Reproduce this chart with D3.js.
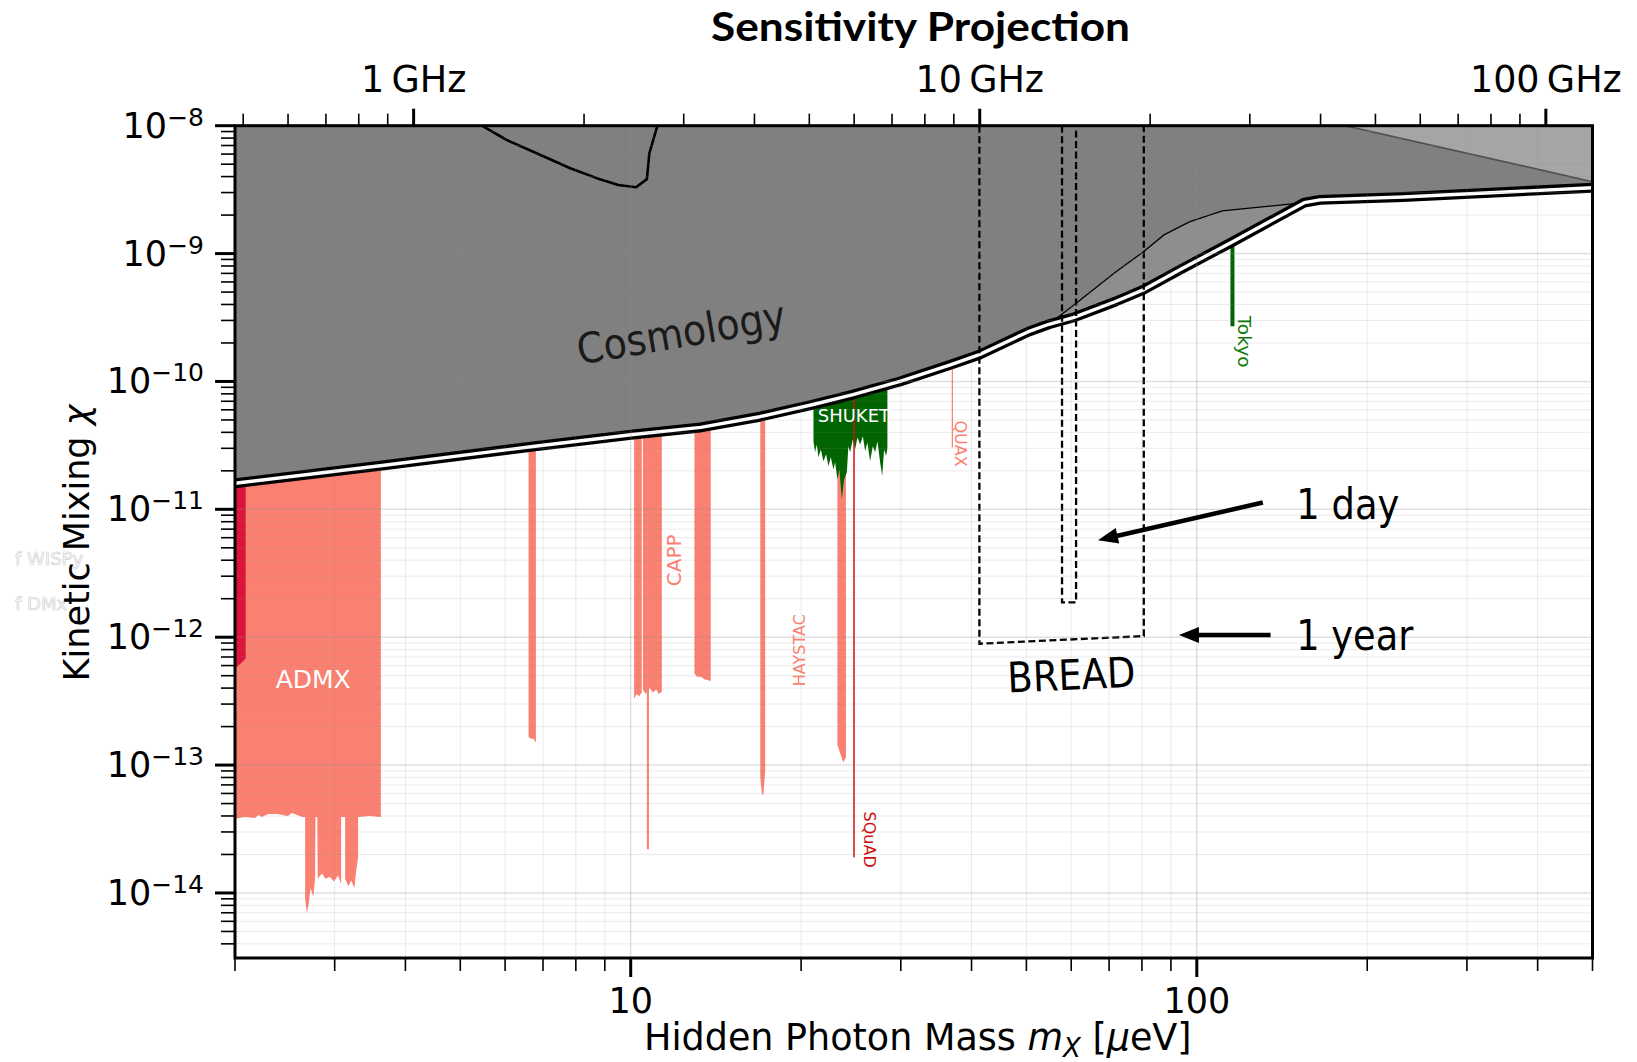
<!DOCTYPE html>
<html>
<head>
<meta charset="utf-8">
<script src="https://d3js.org/d3.v7.min.js"></script>
<style>
  body { margin: 0; background: #fff; }
  svg { display: block; }
  text { font-family: "DejaVu Sans", sans-serif; }
</style>
</head>
<body>
<div id="chart-area"></div>
<script>
// ---------- data: hidden photon mass in µeV, kinetic mixing chi ----------
const uevPerGHz = 4.1357;

// cosmology bound (lower edge of grey region)
const cosmoMass = [2, 3.64, 6.72, 10.1, 13.3, 16.9, 21.0, 24.7, 29.9, 36.7, 41.3, 50.4, 54.8, 60.5, 71.7, 80.4, 93.5, 114.6, 154.8, 165, 231.6, 500];
const cosmoChi = [1.6e-11, 2.2e-11, 3.1e-11, 3.85e-11, 4.37e-11, 5.3e-11, 6.6e-11, 7.9e-11, 1.0e-10, 1.35e-10, 1.62e-10, 2.45e-10, 2.8e-10, 3.16e-10, 4.2e-10, 5.2e-10, 7.5e-10, 1.21e-9, 2.5e-9, 2.63e-9, 2.77e-9, 3.27e-9];

// thin bound inside the grey region
const stellarMass = [54.8, 61.7, 71.7, 80.4, 87.5, 97, 110.9, 154.8];
const stellarChi = [2.8e-10, 4.2e-10, 7.1e-10, 1.03e-9, 1.4e-9, 1.77e-9, 2.16e-9, 2.5e-9];

// curve near 1 GHz at the top
const topCurveMass = [5.46, 6.04, 6.82, 7.82, 8.71, 9.51, 10.22, 10.68, 10.79, 11.15];
const topCurveChi = [1e-8, 7.73e-9, 6.09e-9, 4.65e-9, 3.89e-9, 3.44e-9, 3.3e-9, 3.82e-9, 6.1e-9, 1e-8];

// light grey wedge, upper right
const wedgeMass = [182.8, 500];
const wedgeChi = [1e-8, 3.65e-9];

// haloscopes (lower edge of each excluded band)
const admxMass = [2.00, 2.08, 2.17, 2.20, 2.23, 2.29, 2.38, 2.48, 2.52, 2.575, 2.63, 2.66, 2.66, 2.68, 2.70, 2.72, 2.75, 2.77, 2.775, 2.795, 2.80, 2.85, 2.89, 2.94, 2.99, 3.04, 3.08, 3.08, 3.13, 3.13, 3.17, 3.21, 3.25, 3.27, 3.30, 3.30, 3.46, 3.62];
const admxChi = [3.8e-14, 3.93e-14, 3.86e-14, 4.07e-14, 3.93e-14, 4.15e-14, 4.15e-14, 4.0e-14, 4.22e-14, 4.07e-14, 3.93e-14, 3.93e-14, 9.0e-15, 6.9e-15, 8.3e-15, 1.09e-14, 9.4e-15, 1.29e-14, 3.93e-14, 3.93e-14, 1.29e-14, 1.42e-14, 1.29e-14, 1.34e-14, 1.23e-14, 1.37e-14, 1.18e-14, 3.93e-14, 3.93e-14, 1.29e-14, 1.13e-14, 1.25e-14, 1.09e-14, 1.42e-14, 1.9e-14, 3.93e-14, 4.0e-14, 3.93e-14];

const redStripMass = [2.0, 2.045, 2.089];
const redStripChi = [5.7e-13, 6.2e-13, 6.8e-13];

const band1Mass = [6.60, 6.68, 6.72, 6.80];
const band1Chi = [1.66e-13, 1.60e-13, 1.62e-13, 1.50e-13];

const cappAMass = [10.14, 10.25, 10.35, 10.46];
const cappAChi = [3.3e-13, 3.6e-13, 3.45e-13, 3.7e-13];
const cappBMass = [10.51, 10.62, 10.8, 10.95, 11.1, 11.2, 11.35];
const cappBChi = [3.9e-13, 3.6e-13, 4.0e-13, 3.7e-13, 3.9e-13, 3.6e-13, 3.75e-13];
const cappThinMass = [10.68, 10.77];
const cappThinChi = [2.2e-14, 2.2e-14];

const band3Mass = [12.96, 13.1, 13.3, 13.5, 13.85];
const band3Chi = [5.2e-13, 4.9e-13, 4.9e-13, 4.7e-13, 4.55e-13];

const haystacMass = [16.94, 17.05, 17.15, 17.28];
const haystacChi = [8.0e-14, 6.0e-14, 5.8e-14, 9.0e-14];

const band5Mass = [23.18, 23.5, 23.75, 24.0];
const band5Chi = [1.45e-13, 1.2e-13, 1.05e-13, 1.15e-13];

const shuketMass = [21.03, 21.17, 21.32, 21.46, 21.67, 21.90, 22.14, 22.35, 22.57, 22.81, 22.97, 23.18, 23.37, 23.60, 23.82, 24.09, 24.24, 24.41, 24.68, 24.91, 25.15, 25.43, 25.71, 25.95, 26.19, 26.48, 26.77, 27.03, 27.28, 27.58, 27.81, 28.03, 28.26, 28.41];
const shuketChi = [3.41e-11, 2.79e-11, 3.22e-11, 2.55e-11, 2.94e-11, 2.38e-11, 2.69e-11, 2.18e-11, 2.55e-11, 2.05e-11, 2.33e-11, 1.71e-11, 2.05e-11, 1.20e-11, 1.71e-11, 1.95e-11, 3.12e-11, 2.79e-11, 3.52e-11, 2.94e-11, 3.65e-11, 3.22e-11, 3.73e-11, 2.85e-11, 3.33e-11, 2.38e-11, 3.12e-11, 2.79e-11, 3.41e-11, 2.33e-11, 1.82e-11, 2.94e-11, 2.61e-11, 3.0e-11];

const squadMass = 24.8, squadChi = 1.9e-14;
const quaxMass = 37.0, quaxChi = 3.04e-11;
const tokyoMass = 115.6, tokyoChi = 2.7e-10;

// BREAD projections
const breadYearMass = [41.3, 41.3, 80.6, 80.6];
const breadYearChi = [1e-8, 8.9e-13, 1.02e-12, 1e-8];
const breadDayMass = [57.8, 57.8, 61.2, 61.2];
const breadDayChi = [1e-8, 1.875e-12, 1.875e-12, 1e-8];

// ticks
const xMajor = [10, 100];
const yMajorExp = [-8, -9, -10, -11, -12, -13, -14];
const topMajorGHz = [1, 10, 100];
const topLabels = ["1\u2009GHz", "10\u2009GHz", "100\u2009GHz"];

// ---------- layout ----------
const W = 1637, H = 1062;
const margin = {top: 125.7, right: 44.5, bottom: 104, left: 235};
const width = W - margin.left - margin.right;
const height = H - margin.top - margin.bottom;

const svg = d3.select("#chart-area")
    .append("svg")
    .attr("width", W)
    .attr("height", H)
    .style("background", "#fff");

svg.append("defs")
    .append("clipPath")
    .attr("id", "plot-clip")
    .append("rect")
    .attr("width", width)
    .attr("height", height);

// faint cut-off text at far left
svg.append("text").attr("x", 15).attr("y", 565)
    .attr("font-size", 18).attr("fill", "#fff").attr("stroke", "#cfcfcf").attr("stroke-width", 0.7)
    .text("f WISPy");
svg.append("text").attr("x", 15).attr("y", 610)
    .attr("font-size", 18).attr("fill", "#fff").attr("stroke", "#cfcfcf").attr("stroke-width", 0.7)
    .text("f DMx");

const g = svg.append("g")
    .attr("transform", `translate(${margin.left}, ${margin.top})`);
const plot = g.append("g").attr("clip-path", "url(#plot-clip)");

const x = d3.scaleLog().domain([2, 500]).range([0, width]);
const y = d3.scaleLog().domain([3.1e-15, 1e-8]).range([height, 0]);
const xTop = d3.scaleLog().domain([2 / uevPerGHz, 500 / uevPerGHz]).range([0, width]);

const zip = (a, b) => a.map((v, i) => [v, b[i]]);
const toTop = d3.area().x(d => x(d[0])).y0(d => y(d[1])).y1(0);
const line = d3.line().x(d => x(d[0])).y(d => y(d[1]));

const salmon = "#fa8072";
const green = "#006400";

// ---------- haloscope bands ----------
const bands = [
    [admxMass, admxChi, salmon],
    [redStripMass, redStripChi, "#dc143c"],
    [band1Mass, band1Chi, salmon],
    [cappAMass, cappAChi, salmon],
    [cappBMass, cappBChi, salmon],
    [cappThinMass, cappThinChi, salmon],
    [band3Mass, band3Chi, salmon],
    [haystacMass, haystacChi, salmon],
    [band5Mass, band5Chi, salmon],
    [shuketMass, shuketChi, green]
];
bands.forEach(([m, c, col]) => {
    plot.append("path")
        .datum(zip(m, c))
        .attr("d", toTop)
        .attr("fill", col);
});

const vlines = [
    [squadMass, squadChi, "#cc1010", 1.5],
    [quaxMass, quaxChi, salmon, 1.2],
    [tokyoMass, tokyoChi, green, 4]
];
vlines.forEach(([m, c, col, w]) => {
    plot.append("line")
        .attr("x1", x(m)).attr("x2", x(m))
        .attr("y1", 0).attr("y2", y(c))
        .attr("stroke", col)
        .attr("stroke-width", w);
});

// ---------- cosmology ----------
const boundary = zip(cosmoMass, cosmoChi);
const stellar = zip(stellarMass, stellarChi);
const upper = boundary.filter(d => d[0] < stellarMass[0])
    .concat(stellar, boundary.filter(d => d[0] > stellarMass[stellarMass.length - 1]));

plot.append("path").datum(boundary).attr("d", toTop).attr("fill", "#8e8e8e");
plot.append("path").datum(upper).attr("d", toTop).attr("fill", "#808080");

const wedge = zip(wedgeMass, wedgeChi);
plot.append("path").datum(wedge).attr("d", toTop).attr("fill", "#a6a6a6");
plot.append("path").datum(wedge).attr("d", line)
    .attr("fill", "none").attr("stroke", "#505050").attr("stroke-width", 1.6);

plot.append("path").datum(stellar).attr("d", line)
    .attr("fill", "none").attr("stroke", "#000").attr("stroke-width", 1.3);

plot.append("path").datum(zip(topCurveMass, topCurveChi)).attr("d", line)
    .attr("fill", "none").attr("stroke", "#000").attr("stroke-width", 2.6)
    .attr("stroke-linejoin", "round");

plot.append("path").datum(boundary).attr("d", line)
    .attr("fill", "none").attr("stroke", "#000").attr("stroke-width", 10)
    .attr("stroke-linejoin", "round");
plot.append("path").datum(boundary).attr("d", line)
    .attr("fill", "none").attr("stroke", "#fff").attr("stroke-width", 3.4)
    .attr("stroke-linejoin", "round");

// ---------- BREAD ----------
[[breadYearMass, breadYearChi], [breadDayMass, breadDayChi]].forEach(([m, c]) => {
    plot.append("path").datum(zip(m, c)).attr("d", line)
        .attr("fill", "none").attr("stroke", "#000").attr("stroke-width", 2.3)
        .attr("stroke-dasharray", "7,3.5");
});

// ---------- grid ----------
const isDecade = d => Math.abs(Math.log10(d) - Math.round(Math.log10(d))) < 1e-6;
const grid = plot.append("g");
x.ticks().forEach(d => {
    grid.append("line")
        .attr("x1", x(d)).attr("x2", x(d)).attr("y1", 0).attr("y2", height)
        .attr("stroke", "#909090")
        .attr("stroke-opacity", isDecade(d) ? 0.28 : 0.18)
        .attr("stroke-width", isDecade(d) ? 1.5 : 1);
});
y.ticks().forEach(d => {
    grid.append("line")
        .attr("x1", 0).attr("x2", width).attr("y1", y(d)).attr("y2", y(d))
        .attr("stroke", "#909090")
        .attr("stroke-opacity", isDecade(d) ? 0.28 : 0.18)
        .attr("stroke-width", isDecade(d) ? 1.5 : 1);
});

// ---------- experiment labels ----------
const labels = [
    {t: "ADMX", m: 2.36, c: 4.0e-13, rot: 0, col: "#fff", size: 25, anchor: "start"},
    {t: "SHUKET", m: 21.4, c: 4.78e-11, rot: 0, col: "#fff", size: 18, anchor: "start"},
    {t: "CAPP", m: 11.93, c: 3.99e-12, rot: -90, col: salmon, size: 20},
    {t: "HAYSTAC", m: 19.9, c: 7.92e-13, rot: -90, col: salmon, size: 16},
    {t: "SQuAD", m: 26.4, c: 2.61e-14, rot: 90, col: "#cc1010", size: 16},
    {t: "QUAX", m: 38.3, c: 3.27e-11, rot: 90, col: salmon, size: 16},
    {t: "Tokyo", m: 121.2, c: 2.05e-10, rot: 90, col: "#0a7a0a", size: 18.5}
];
labels.forEach(l => {
    const px = x(l.m), py = y(l.c);
    const t = g.append("text")
        .attr("fill", l.col)
        .attr("font-size", l.size)
        .text(l.t);
    if (l.rot === 0) {
        t.attr("x", px).attr("y", py).attr("text-anchor", l.anchor);
    } else {
        t.attr("text-anchor", "middle")
            .attr("dominant-baseline", "central")
            .attr("transform", `translate(${px}, ${py}) rotate(${l.rot})`);
    }
});

// ---------- axes ----------
const axes = g.append("g").attr("stroke", "#000");
x.ticks().forEach(d => {
    axes.append("line")
        .attr("x1", x(d)).attr("x2", x(d))
        .attr("y1", height).attr("y2", height + (isDecade(d) ? 19 : 13))
        .attr("stroke-width", isDecade(d) ? 3 : 1.6);
});
y.ticks().forEach(d => {
    axes.append("line")
        .attr("x1", 0).attr("x2", isDecade(d) ? -20 : -14)
        .attr("y1", y(d)).attr("y2", y(d))
        .attr("stroke-width", isDecade(d) ? 3 : 1.6);
});
xTop.ticks().forEach(d => {
    axes.append("line")
        .attr("x1", xTop(d)).attr("x2", xTop(d))
        .attr("y1", 0).attr("y2", isDecade(d) ? -17 : -12)
        .attr("stroke-width", isDecade(d) ? 3 : 1.6);
});

g.append("rect")
    .attr("width", width).attr("height", height)
    .attr("fill", "none").attr("stroke", "#000").attr("stroke-width", 3);

g.selectAll(".xlab").data(xMajor).enter().append("text")
    .attr("x", d => x(d)).attr("y", height + 55)
    .attr("text-anchor", "middle").attr("font-size", 35)
    .text(d => d);

g.selectAll(".toplab").data(topMajorGHz).enter().append("text")
    .attr("x", d => xTop(d)).attr("y", -34)
    .attr("text-anchor", "middle").attr("font-size", 36.5)
    .text((d, i) => topLabels[i]);

yMajorExp.forEach(e => {
    const t = g.append("text")
        .attr("x", -31).attr("y", y(Math.pow(10, e)) + 12)
        .attr("text-anchor", "end").attr("font-size", 35);
    t.append("tspan").text("10");
    t.append("tspan").attr("dy", -12).attr("font-size", 25).text("\u2212" + (-e));
});

// axis titles
const xt = g.append("text")
    .attr("x", width / 2 + 4).attr("y", height + 92)
    .attr("text-anchor", "middle").attr("font-size", 36.5);
xt.append("tspan").text("Hidden Photon Mass ");
xt.append("tspan").attr("font-style", "italic").text("m");
xt.append("tspan").attr("font-style", "italic").attr("font-size", 26).attr("dy", 7).text("X");
xt.append("tspan").attr("dy", -7).text(" [");
xt.append("tspan").attr("font-style", "italic").text("\u03bc");
xt.append("tspan").text("eV]");

const yt = svg.append("text")
    .attr("transform", "translate(89, 543) rotate(-90)")
    .attr("text-anchor", "middle").attr("font-size", 35);
yt.append("tspan").text("Kinetic Mixing ");
yt.append("tspan").attr("font-style", "italic").text("\u03c7");

// ---------- annotations ----------
const ann = g.append("g").style("font-family", "Lato, sans-serif");

svg.append("text")
    .attr("x", 920.5).attr("y", 41)
    .attr("text-anchor", "middle")
    .style("font-family", "Lato, sans-serif")
    .attr("font-weight", 700).attr("font-size", 41)
    .attr("textLength", 419).attr("lengthAdjust", "spacingAndGlyphs")
    .text("Sensitivity Projection");

ann.append("text")
    .attr("transform", `translate(${x(12.4)}, ${y(1.86e-10)}) rotate(-9.6)`)
    .attr("text-anchor", "middle").attr("font-size", 42).attr("fill", "#1a1a1a")
    .attr("textLength", 211).attr("lengthAdjust", "spacingAndGlyphs")
    .text("Cosmology");

ann.append("text")
    .attr("transform", `translate(${x(60.2)}, ${y(5.0e-13) + 14}) rotate(-2.6)`)
    .attr("text-anchor", "middle").attr("font-size", 42)
    .attr("textLength", 128).attr("lengthAdjust", "spacingAndGlyphs")
    .text("BREAD");

ann.append("text").attr("x", x(149.9)).attr("y", y(8.4e-12))
    .attr("font-size", 42)
    .attr("textLength", 103).attr("lengthAdjust", "spacingAndGlyphs")
    .text("1 day");
ann.append("text").attr("x", x(149.9)).attr("y", y(7.9e-13))
    .attr("font-size", 42)
    .attr("textLength", 117).attr("lengthAdjust", "spacingAndGlyphs")
    .text("1 year");

const arrows = [
    [[130.8, 1.13e-11], [66.9, 5.73e-12]],
    [[135.0, 1.04e-12], [93.0, 1.04e-12]]
];
arrows.forEach(([from, to]) => {
    const x0 = x(from[0]), y0 = y(from[1]), x1 = x(to[0]), y1 = y(to[1]);
    const len = Math.hypot(x1 - x0, y1 - y0);
    const ux = (x1 - x0) / len, uy = (y1 - y0) / len;
    const headL = 20, headW = 8;
    const bx = x1 - ux * headL, by = y1 - uy * headL;
    ann.append("line")
        .attr("x1", x0).attr("y1", y0).attr("x2", bx + ux * 2).attr("y2", by + uy * 2)
        .attr("stroke", "#000").attr("stroke-width", 4.5);
    ann.append("path")
        .attr("d", `M${x1},${y1} L${bx - uy * headW},${by + ux * headW} L${bx + uy * headW},${by - ux * headW} Z`)
        .attr("fill", "#000");
});
</script>
</body>
</html>
